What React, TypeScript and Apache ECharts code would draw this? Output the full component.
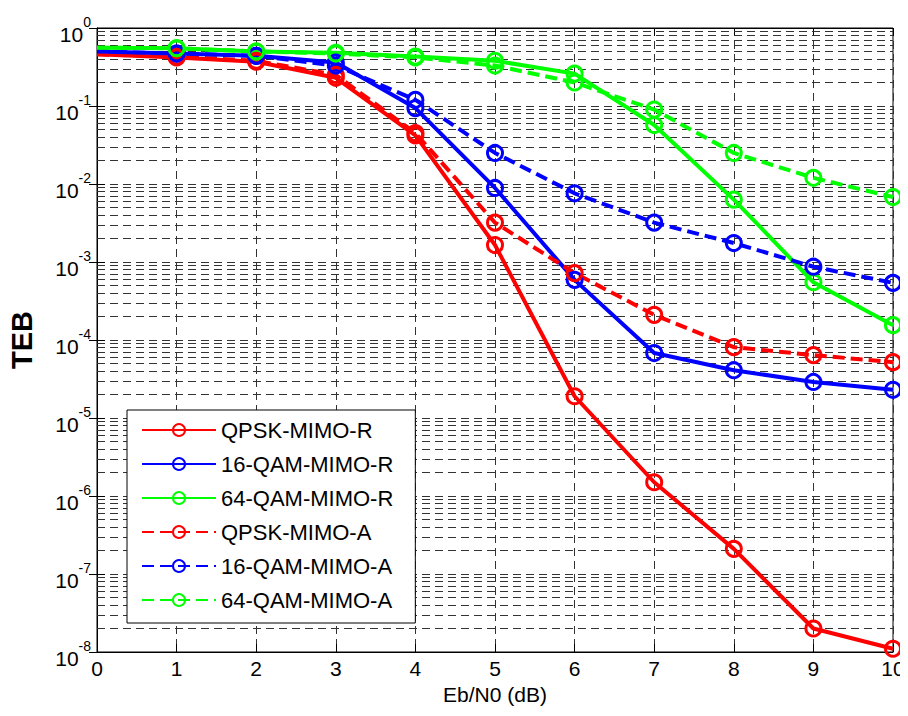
import React, { useEffect, useRef } from "react";
import * as echarts from "echarts";

const ebn0 = [0, 1, 2, 3, 4, 5, 6, 7, 8, 9, 10];
const qpskR = [0.46, 0.42, 0.37, 0.23, 0.042, 1.65e-3, 1.9e-5, 1.5e-6, 2.1e-7, 2.0e-8, 1.1e-8];
const qam16R = [0.5, 0.47, 0.44, 0.36, 0.094, 8.9e-3, 5.9e-4, 6.8e-5, 4.1e-5, 2.9e-5, 2.3e-5];
const qam64R = [0.56, 0.55, 0.5, 0.48, 0.43, 0.38, 0.26, 0.057, 6.3e-3, 5.5e-4, 1.55e-4];
const qpskA = [0.46, 0.43, 0.38, 0.25, 0.045, 3.2e-3, 7.2e-4, 2.1e-4, 8.1e-5, 6.4e-5, 5.2e-5];
const qam16A = [0.5, 0.47, 0.44, 0.33, 0.12, 0.025, 7.6e-3, 3.2e-3, 1.75e-3, 8.7e-4, 5.4e-4];
const qam64A = [0.56, 0.55, 0.5, 0.47, 0.42, 0.33, 0.2, 0.09, 0.025, 0.012, 6.8e-3];

const seriesNames = ["QPSK-MIMO-R", "16-QAM-MIMO-R", "64-QAM-MIMO-R", "QPSK-MIMO-A", "16-QAM-MIMO-A", "64-QAM-MIMO-A"];
const seriesValues = [qpskR, qam16R, qam64R, qpskA, qam16A, qam64A];
const seriesColors = ["#ff0000", "#0000ff", "#00ff00", "#ff0000", "#0000ff", "#00ff00"];
const seriesDashed = [false, false, false, true, true, true];

const decadeExponents = [-8, -7, -6, -5, -4, -3, -2, -1];
const minorMultipliers = [2, 3, 4, 5, 6, 7, 8, 9];

const FONT = "'Liberation Sans', Arial, Helvetica, sans-serif";

export default function App() {
  const ref = useRef<HTMLDivElement>(null);
  useEffect(() => {
    if (!ref.current) return;
    const chart = echarts.init(ref.current, undefined, { renderer: "svg" });
    const minorValues: number[] = [];
    decadeExponents.forEach((e) => minorMultipliers.forEach((m) => minorValues.push(m * Math.pow(10, e))));
    const gridLine = { type: [8, 5] as number[], color: "#333", width: 1 };

    const series: any[] = [
      {
        name: "minorGrid",
        type: "lines",
        coordinateSystem: "cartesian2d",
        silent: true,
        z: 1,
        symbol: ["none", "none"],
        lineStyle: { ...gridLine, opacity: 1, curveness: 0 },
        emphasis: { disabled: true },
        data: minorValues.map((v) => ({ coords: [[ebn0[0], v], [ebn0[ebn0.length - 1], v]] })),
      },
    ];
    seriesNames.forEach((name, i) => {
      series.push({
        name,
        type: "line",
        z: 3,
        symbol: "circle",
        symbolSize: 15,
        data: ebn0.map((x, j) =>
          j === 0 ? { value: [x, seriesValues[i][j]], symbol: "none" } : { value: [x, seriesValues[i][j]] }
        ),
        lineStyle: { color: seriesColors[i], width: 4, type: seriesDashed[i] ? [12, 6] : "solid" },
        itemStyle: { color: "rgba(255,255,255,0)", borderColor: seriesColors[i], borderWidth: 3 },
        emphasis: { disabled: true },
      });
    });

    chart.setOption({
      animation: false,
      backgroundColor: "#fff",
      textStyle: { fontFamily: FONT },
      grid: {
        left: 97,
        right: 15,
        top: 28,
        bottom: 64,
        containLabel: false,
        outerBoundsMode: "none",
        show: true,
        borderColor: "#000",
        borderWidth: 1,
        backgroundColor: "transparent",
      },
      legend: {
        data: seriesNames,
        orient: "vertical",
        left: 127,
        top: 410,
        itemWidth: 74,
        itemHeight: 15,
        itemGap: 12,
        padding: [9, 22, 12, 14],
        backgroundColor: "#fff",
        borderColor: "#000",
        borderWidth: 1,
        textStyle: { fontSize: 22, color: "#000", fontFamily: FONT },
        selectedMode: false,
        z: 10,
      },
      xAxis: [
        {
          type: "value",
          min: 0,
          max: 10,
          interval: 1,
          name: "Eb/N0 (dB)",
          nameLocation: "middle",
          nameGap: 27,
          nameTextStyle: { fontSize: 21, color: "#000", fontFamily: FONT },
          axisLine: { show: true, lineStyle: { color: "#000" } },
          axisTick: { show: true, inside: true, length: 8, lineStyle: { color: "#000" } },
          axisLabel: { fontSize: 21, color: "#000", margin: 6, fontFamily: FONT },
          splitLine: { show: true, lineStyle: gridLine },
        },
        {
          type: "value",
          position: "top",
          min: 0,
          max: 10,
          interval: 1,
          axisLine: { show: true, lineStyle: { color: "#000" } },
          axisTick: { show: true, inside: true, length: 8, lineStyle: { color: "#000" } },
          axisLabel: { show: false },
          splitLine: { show: false },
        },
      ],
      yAxis: [
        {
          type: "log",
          logBase: 10,
          min: 1e-8,
          max: 1,
          interval: 1,
          name: "TEB",
          nameLocation: "middle",
          nameGap: 61,
          nameTextStyle: { fontSize: 29, fontWeight: "bold", color: "#000", fontFamily: FONT },
          axisLine: { show: true, lineStyle: { color: "#000" } },
          axisTick: { show: true, inside: true, length: 8, lineStyle: { color: "#000" } },
          axisLabel: {
            color: "#000",
            margin: 6,
            formatter: (v: number) => `{b|10}{s|${Math.round(Math.log10(v))}}`,
            rich: {
              b: { fontSize: 21, color: "#000", fontFamily: FONT, padding: [12, 0, 0, 0] },
              s: { fontSize: 14, color: "#000", fontFamily: FONT, padding: [0, 0, 12, 0] },
            },
          },
          splitLine: { show: true, lineStyle: gridLine },
        },
        {
          type: "log",
          logBase: 10,
          min: 1e-8,
          max: 1,
          interval: 1,
          position: "right",
          axisLine: { show: true, lineStyle: { color: "#000" } },
          axisTick: { show: true, inside: true, length: 8, lineStyle: { color: "#000" } },
          axisLabel: { show: false },
          splitLine: { show: false },
        },
      ],
      series,
    });
    return () => chart.dispose();
  }, []);
  return <div ref={ref} style={{ width: 908, height: 716, marginLeft: -8, marginTop: -8 }} />;
}
